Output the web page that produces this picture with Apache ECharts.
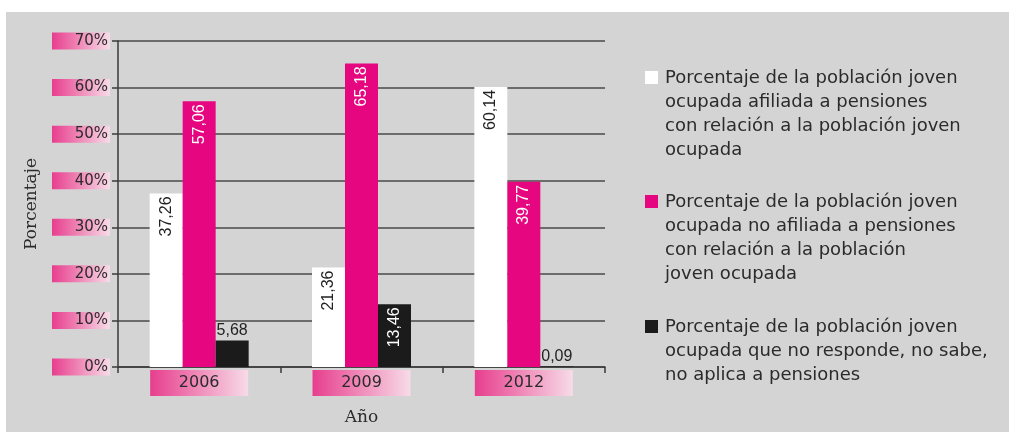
<!DOCTYPE html>
<html>
<head>
<meta charset="utf-8">
<script src="https://cdn.jsdelivr.net/npm/echarts@6/dist/echarts.min.js"></script>
<style>
  html, body { margin: 0; padding: 0; background: #fff; }
  #chart { width: 1009px; height: 432px; }
</style>
</head>
<body>
<div id="chart"></div>
<script>
// datos
const years = ['2006', '2009', '2012'];
const afiliada = [37.26, 21.36, 60.14];
const noAfiliada = [57.06, 65.18, 39.77];
const noResponde = [5.68, 13.46, 0.09];

const legendLines = [
  ['Porcentaje de la población joven', 'ocupada afiliada a pensiones', 'con relación a la población joven', 'ocupada'],
  ['Porcentaje de la población joven', 'ocupada no afiliada a pensiones', 'con relación a la población', 'joven ocupada'],
  ['Porcentaje de la población joven', 'ocupada que no responde, no sabe,', 'no aplica a pensiones']
];
const seriesNames = legendLines.map(l => l.join(' '));
const colors = ['#ffffff', '#e6067f', '#1b1b1b'];

const fmt = v => v.toFixed(2).replace('.', ',');

const pinkGrad = () => new echarts.graphic.LinearGradient(0, 0, 1, 0, [
  { offset: 0, color: '#e73e8e' },
  { offset: 0.5, color: '#f08dba' },
  { offset: 1, color: '#f7dbe8' }
]);

// etiquetas: giradas dentro de la barra, o encima si la barra es baja
function items(values, insideColor, topColor) {
  return values.map(v => {
    if (v < 10) {
      return {
        value: v,
        label: { show: true, position: 'top', distance: 2, rotate: 0, color: topColor }
      };
    }
    return {
      value: v,
      label: {
        show: true, position: 'insideTop', distance: 3, rotate: 90,
        align: 'right', verticalAlign: 'middle', color: insideColor
      }
    };
  });
}

const chart = echarts.init(document.getElementById('chart'));

let legendGraphics = [];
const legendTops = [66, 190, 315];
legendLines.forEach((lines, i) => {
  legendGraphics.push({
    type: 'rect',
    shape: { x: 645, y: legendTops[i] + 5, width: 13, height: 13 },
    style: { fill: colors[i] }
  });
  legendGraphics.push({
    type: 'text',
    x: 665, y: legendTops[i],
    style: {
      text: lines.join('\n'),
      font: '18px "DejaVu Sans"',
      lineHeight: 24,
      fill: '#2b2b2b',
      verticalAlign: 'top'
    }
  });
});

const option = {
  backgroundColor: '#d4d4d4',
  animation: false,
  graphic: [
    { type: 'rect', shape: { x: 0, y: 0, width: 1009, height: 12 }, style: { fill: '#ffffff' } },
    { type: 'rect', shape: { x: 0, y: 0, width: 6, height: 432 }, style: { fill: '#ffffff' } }
  ].concat(legendGraphics),
  grid: { left: 118, right: 404, top: 41, bottom: 65 },
  xAxis: {
    type: 'category',
    data: years,
    name: 'Año',
    nameLocation: 'middle',
    nameGap: 42,
    nameTextStyle: { fontFamily: 'DejaVu Serif', fontSize: 17, color: '#2b2b2b' },
    axisLine: { lineStyle: { color: '#3a3a3a', width: 1.5 } },
    axisTick: { show: true, length: 6, lineStyle: { color: '#3a3a3a', width: 1.5 } },
    axisLabel: {
      margin: 3,
      formatter: v => '{b|' + v + '}',
      rich: {
        b: {
          width: 98, height: 26, align: 'center', verticalAlign: 'middle',
          fontSize: 16, fontFamily: 'DejaVu Sans', color: '#2b2b2b',
          backgroundColor: pinkGrad()
        }
      }
    }
  },
  yAxis: {
    type: 'value',
    min: 0, max: 70, interval: 10,
    name: 'Porcentaje',
    nameLocation: 'middle',
    nameGap: 78,
    nameRotate: 90,
    nameTextStyle: { fontFamily: 'DejaVu Serif', fontSize: 17, color: '#2b2b2b' },
    axisLine: { show: true, lineStyle: { color: '#3a3a3a', width: 1.5 } },
    axisTick: { show: true, length: 6, lineStyle: { color: '#3a3a3a', width: 1.5 } },
    splitLine: { lineStyle: { color: '#4a4a4a', width: 1.5 } },
    axisLabel: {
      margin: 8,
      formatter: v => '{b|' + v + '%}',
      rich: {
        b: {
          width: 54, height: 17, align: 'right', verticalAlign: 'middle',
          padding: [0, 2, 0, 2],
          fontSize: 15, fontFamily: 'DejaVu Sans', color: '#2b2b2b',
          backgroundColor: pinkGrad()
        }
      }
    }
  },
  series: [
    {
      name: seriesNames[0], type: 'bar', barWidth: 33, barGap: '0%',
      itemStyle: { color: colors[0] },
      label: { fontFamily: 'Liberation Sans', fontSize: 16, formatter: p => fmt(p.value) },
      data: items(afiliada, '#222222', '#222222')
    },
    {
      name: seriesNames[1], type: 'bar', barWidth: 33, barGap: '0%',
      itemStyle: { color: colors[1] },
      label: { fontFamily: 'Liberation Sans', fontSize: 16, formatter: p => fmt(p.value) },
      data: items(noAfiliada, '#ffffff', '#222222')
    },
    {
      name: seriesNames[2], type: 'bar', barWidth: 33, barGap: '0%',
      itemStyle: { color: colors[2] },
      label: { fontFamily: 'Liberation Sans', fontSize: 16, formatter: p => fmt(p.value) },
      data: items(noResponde, '#ffffff', '#222222')
    }
  ]
};

chart.setOption(option);
</script>
</body>
</html>
